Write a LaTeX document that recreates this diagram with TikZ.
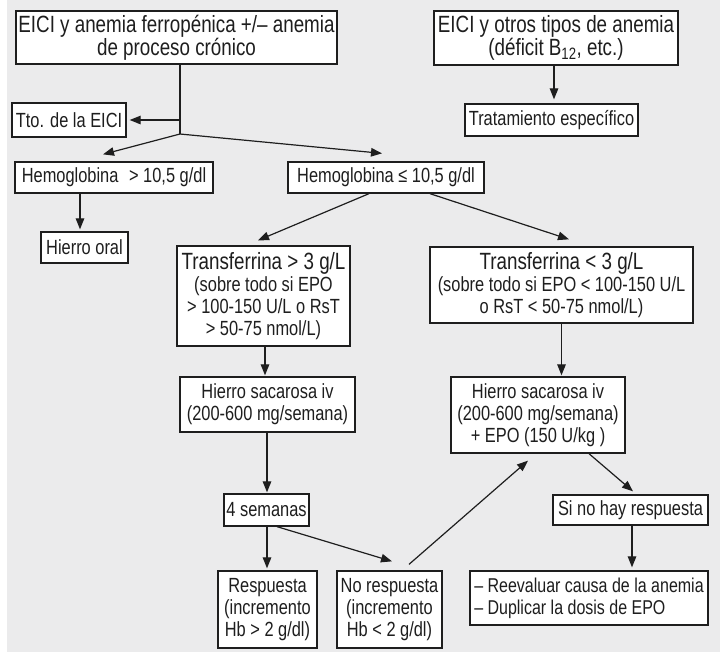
\documentclass[tikz,border=0pt]{standalone}
\usepackage{fontspec}
\setmainfont[FakeStretch=0.80]{Liberation Sans}
\usetikzlibrary{arrows.meta}
\definecolor{panel}{HTML}{EBEBEC}
\definecolor{ink}{HTML}{1E1E1E}
\newcommand\leadline{\fontsize{23.5}{22}\selectfont}

\begin{document}
\begin{tikzpicture}[x=1pt,y=-1pt,
  box/.style={draw=ink, line width=1.3pt, fill=white, inner sep=0pt,
    align=center, text=ink, font=\fontsize{20.5}{22}\selectfont},
  big/.style={font=\fontsize{23.5}{22}\selectfont},
  sz/.style 2 args={minimum width=#1pt, minimum height=#2pt},
  link/.style={draw=ink, line width=1.2pt},
  arr/.style={link, -{Triangle[length=11pt,width=8.5pt]}},
]
% page and panel
\fill[white] (0,0) rectangle (720,654);
\fill[panel] (7,0) rectangle (720,652);

% boxes
\node[box, big, sz={321}{53}] (a) at (176.5,37.5) {EICI y anemia ferropénica +/– anemia\\de proceso crónico};
\node[box, big, sz={244}{54}] (b) at (556,38) {EICI y otros tipos de anemia\\(déficit B\textsubscript{12}, etc.)};
\node[box, sz={173}{32}] (c) at (551.5,120) {Tratamiento específico};
\node[box, sz={114}{34}] (tto) at (69,120) {Tto. de la EICI};
\node[box, sz={198}{31}] (h1) at (114,177.5) {Hemoglobina\hspace{0.3em} > 10,5 g/dl};
\node[box, sz={196}{31}] (h2) at (386,177.5) {Hemoglobina ≤ 10,5 g/dl};
\node[box, sz={87}{31}] (ho) at (84.5,247.5) {Hierro oral};
\node[box, sz={173}{100}] (t1) at (263.5,296) {{\leadline Transferrina > 3 g/L}\\(sobre todo si EPO\\> 100-150 U/L o RsT\\> 50-75 nmol/L)};
\node[box, sz={263}{76}] (t2) at (561.5,285) {{\leadline Transferrina < 3 g/L}\\(sobre todo si EPO < 100-150 U/L\\o RsT < 50-75 nmol/L)};
\node[box, sz={175}{55}] (i1) at (267.5,404.5) {Hierro sacarosa iv\\(200-600 mg/semana)};
\node[box, sz={174}{76}] (i2) at (538,415) {Hierro sacarosa iv\\(200-600 mg/semana)\\+ EPO (150 U/kg )};
\node[box, sz={85}{32}] (w4) at (266.5,510) {4 semanas};
\node[box, sz={155}{30}] (sn) at (630.5,510) {Si no hay respuesta};
\node[box, sz={99}{77}] (r1) at (267.5,609.5) {Respuesta\\(incremento\\Hb > 2 g/dl)};
\node[box, sz={105}{77}] (r2) at (389.5,609.5) {No respuesta\\(incremento\\Hb < 2 g/dl)};
\node[box, sz={238}{54}, align=left, font=\fontsize{20}{22}\selectfont] (rv) at (589,598) {– Reevaluar causa de la anemia\\– Duplicar la dosis de EPO};

% connectors
\coordinate (fork) at (180,134);
\draw[link] (a.south -| fork) -- (fork);
\draw[arr, shorten >=3pt] (fork |- tto.east) -- (tto.east);
\draw[arr] (fork) -- ([xshift=-11pt,yshift=7pt]h1.north);
\draw[arr] (fork) -- ([xshift=-4pt,yshift=8pt]h2.north);
\draw[arr] ([xshift=-4.5pt]ho.north |- h1.south) -- ([xshift=-4.5pt,yshift=2pt]ho.north);
\draw[arr] ([xshift=2.5pt]c.north |- b.south) -- ([xshift=2.5pt,yshift=4pt]c.north);
\draw[arr] ([xshift=-17pt]h2.south) -- ([xshift=-5.5pt,yshift=5pt]t1.north);
\draw[arr] ([xshift=44pt]h2.south) -- ([xshift=7.5pt,yshift=7pt]t2.north);
\draw[arr] ([xshift=1.5pt]t1.south) -- ([xshift=-2.5pt,yshift=1pt]i1.north);
\draw[arr] (t2.south) -- ([xshift=23.5pt,yshift=1pt]i2.north);
\draw[arr] ([xshift=-0.5pt]i1.south) -- ([xshift=0.5pt,yshift=1pt]w4.north);
\draw[arr] ([xshift=0.5pt]w4.south) -- ([xshift=-0.5pt,yshift=2pt]r1.north);
\draw[arr] ([xshift=10.5pt]w4.south) -- ([xshift=2.5pt,yshift=9pt]r2.north);
\draw[arr] ([xshift=19.5pt,yshift=6pt]r2.north) -- ([xshift=-10pt,yshift=-7pt]i2.south);
\draw[arr] ([xshift=51pt]i2.south) -- ([xshift=2.5pt,yshift=3pt]sn.north);
\draw[arr] ([xshift=1.5pt]sn.south) -- ([xshift=43pt,yshift=3pt]rv.north);
\end{tikzpicture}
\end{document}
